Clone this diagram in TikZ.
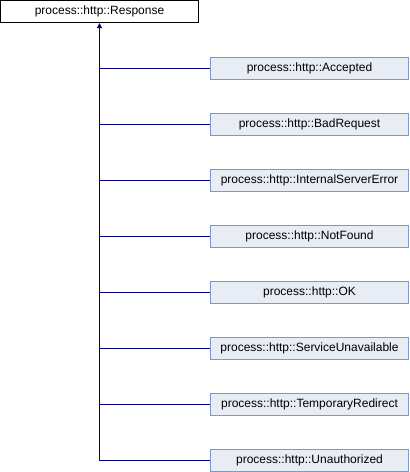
\documentclass[tikz,border=0pt]{standalone}
\usepackage{fontspec}
\setmainfont{Liberation Sans}
\usetikzlibrary{arrows.meta}
\definecolor{edgeblue}{HTML}{000080}
\definecolor{boxfill}{HTML}{E8ECF5}
\definecolor{boxline}{HTML}{7E97CD}
\tikzset{
  baseclass/.style={draw=black, fill=white, line width=1pt, minimum width=198pt, minimum height=22pt, inner sep=0pt, font=\fontsize{12}{14}\selectfont},
  subclass/.style={draw=boxline, fill=boxfill, line width=1pt, minimum width=198pt, minimum height=22pt, inner sep=0pt, font=\fontsize{12}{14}\selectfont},
  inherit/.style={draw=edgeblue, line width=1pt}
}
\begin{document}
\begin{tikzpicture}
[x=1pt, y=-1pt]
\useasboundingbox (0,0) rectangle (410,472);
\node [baseclass] (response) at (99.5,11.5) {process::http::Response};
\node [subclass] (accepted) at (309.5,68) {process::http::Accepted};
\node [subclass] (badrequest) at (309.5,124) {process::http::BadRequest};
\node [subclass] (internalerror) at (309.5,180) {process::http::InternalServerError};
\node [subclass] (notfound) at (309.5,236) {process::http::NotFound};
\node [subclass] (ok) at (309.5,292) {process::http::OK};
\node [subclass] (unavailable) at (309.5,348) {process::http::ServiceUnavailable};
\node [subclass] (redirect) at (309.5,404) {process::http::TemporaryRedirect};
\node [subclass] (unauthorized) at (309.5,460) {process::http::Unauthorized};
\draw [inherit, -{Triangle[length=5pt, width=5pt]}] (unauthorized.west) -| (response.south);
\draw [inherit] (accepted.west) -- (accepted.west -| response.south);
\draw [inherit] (badrequest.west) -- (badrequest.west -| response.south);
\draw [inherit] (internalerror.west) -- (internalerror.west -| response.south);
\draw [inherit] (notfound.west) -- (notfound.west -| response.south);
\draw [inherit] (ok.west) -- (ok.west -| response.south);
\draw [inherit] (unavailable.west) -- (unavailable.west -| response.south);
\draw [inherit] (redirect.west) -- (redirect.west -| response.south);
\end{tikzpicture}
\end{document}
